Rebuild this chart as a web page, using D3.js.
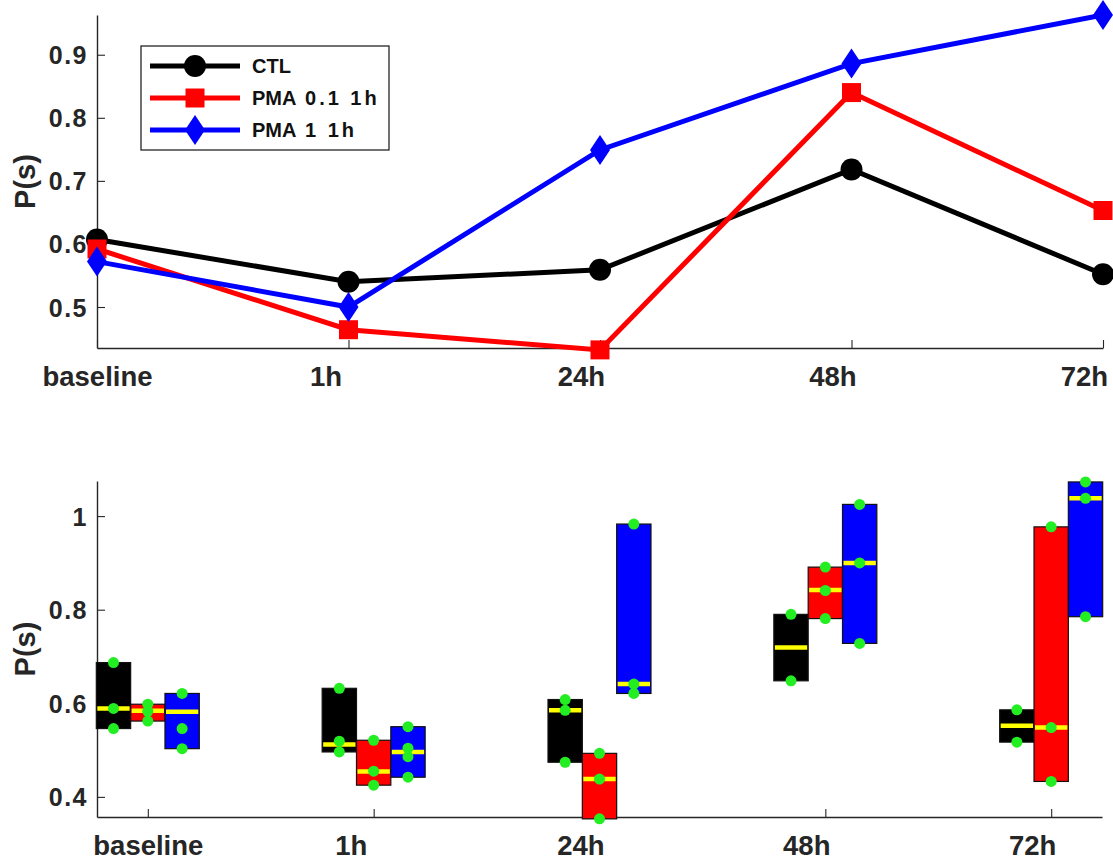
<!DOCTYPE html>
<html>
<head>
<meta charset="utf-8">
<script src="https://cdn.jsdelivr.net/npm/d3@7"></script>
<style>
  html, body { margin: 0; padding: 0; background: #fff; }
  svg { display: block; font-family: "Liberation Sans", Arial, Helvetica, sans-serif; font-weight: bold; }
  .pre { white-space: pre; }
</style>
</head>
<body>
<svg id="fig" width="1113" height="861"></svg>
<script>
// Time points and groups
const timepoints = ["baseline", "1h", "24h", "48h", "72h"];
const groups = ["CTL", "PMA 0.1 1h", "PMA 1 1h"];
const groupColors = ["#000000", "#ff0000", "#0000ff"];

// Mean P(s) per time point (upper panel)
const ctlMean   = [0.607, 0.540, 0.559, 0.718, 0.552];
const pma01Mean = [0.592, 0.464, 0.432, 0.840, 0.653];
const pma1Mean  = [0.572, 0.500, 0.749, 0.886, 0.963];

// Individual P(s) values per time point (lower panel)
const ctlPoints = [
  [0.687, 0.589, 0.546],
  [0.632, 0.519, 0.496],
  [0.608, 0.585, 0.474],
  [0.790, 0.648],
  [0.586, 0.517]
];
const pma01Points = [
  [0.598, 0.583, 0.562],
  [0.521, 0.455, 0.425],
  [0.493, 0.438, 0.353],
  [0.891, 0.841, 0.781],
  [0.977, 0.548, 0.433]
];
const pma1Points = [
  [0.621, 0.546, 0.503],
  [0.550, 0.504, 0.486, 0.442],
  [0.983, 0.641, 0.621],
  [1.025, 0.900, 0.728],
  [1.073, 1.038, 0.785]
];

// Medians per time point (lower panel)
const ctlMedian   = [0.589, 0.512, 0.585, 0.719, 0.552];
const pma01Median = [0.584, 0.454, 0.438, 0.842, 0.548];
const pma1Median  = [0.582, 0.496, 0.641, 0.900, 1.038];

// Tick values
const topYTicks = [0.5, 0.6, 0.7, 0.8, 0.9];
const botYTicks = [0.4, 0.6, 0.8, 1];

const means = [ctlMean, pma01Mean, pma1Mean];
const points = [ctlPoints, pma01Points, pma1Points];
const medians = [ctlMedian, pma01Median, pma1Median];

const svg = d3.select("#fig");
const axisColor = "#262626";
const xLabelSize = 27.5;

// Tick labels behave like a fixed-width character block: each label is
// centred as if padded with trailing blanks to the longest label's length.
const labelWidth = d3.max(timepoints, s => s.length);
function measure(str) {
  const t = svg.append("text").attr("class", "pre")
    .attr("font-size", xLabelSize).text(str);
  const w = t.node().getComputedTextLength();
  t.remove();
  return w;
}
const blankWidth = (measure("x" + " ".repeat(10) + "x") - measure("xx")) / 10;

function styleAxis(g) {
  g.select(".domain").attr("stroke", axisColor).attr("stroke-width", 1.4);
  g.selectAll(".tick line").attr("stroke", axisColor).attr("stroke-width", 1.1);
  g.selectAll(".tick text").attr("fill", "#262626").attr("font-weight", "bold");
}
function styleXLabels(g) {
  g.selectAll(".tick text")
    .attr("font-size", xLabelSize)
    .attr("dx", i => -(labelWidth - timepoints[i].length) * blankWidth / 2);
}
function styleYLabels(g) {
  g.selectAll(".tick text")
    .attr("font-size", 25)
    .attr("letter-spacing", 1.5)
    .attr("dy", "0.36em");
}

// ---------- Upper panel: means over time ----------
const xTop = d3.scaleLinear().domain([0, 4]).range([97, 1103]);
const yTop = d3.scaleLinear().domain([0.435, 0.963]).range([348, 15]);

const topPanel = svg.append("g");

topPanel.append("g")
  .attr("transform", `translate(0,${yTop.range()[0]})`)
  .call(d3.axisBottom(xTop).tickValues(d3.range(timepoints.length))
        .tickFormat(i => timepoints[i]).tickSizeInner(-8).tickSizeOuter(0).tickPadding(18))
  .call(styleAxis)
  .call(styleXLabels);

topPanel.append("g")
  .attr("transform", `translate(${xTop.range()[0]},0)`)
  .call(d3.axisLeft(yTop).tickValues(topYTicks).tickFormat(d3.format(".1f"))
        .tickSizeInner(-8).tickSizeOuter(0).tickPadding(9))
  .call(styleAxis)
  .call(styleYLabels);

topPanel.append("text")
  .attr("transform", `translate(35,${(yTop.range()[0] + yTop.range()[1]) / 2}) rotate(-90)`)
  .attr("text-anchor", "middle")
  .attr("font-size", 29)
  .attr("fill", "#262626")
  .text("P(s)");

const line = d3.line().x((d, i) => xTop(i)).y(d => yTop(d));

const symbolCircle = d3.symbol().type(d3.symbolCircle).size(Math.PI * 11 * 11);
const symbolSquare = d3.symbol().type(d3.symbolSquare).size(19 * 19);
function diamondPath(w, h) {
  return `M0,${-h / 2}L${w / 2},0L0,${h / 2}L${-w / 2},0Z`;
}
const markerPaths = [symbolCircle(), symbolSquare(), diamondPath(20, 30)];

means.forEach((series, gi) => {
  const sg = topPanel.append("g");
  sg.append("path")
    .datum(series)
    .attr("d", line)
    .attr("fill", "none")
    .attr("stroke", groupColors[gi])
    .attr("stroke-width", 5)
    .attr("stroke-linejoin", "miter");
  sg.selectAll("path.marker")
    .data(series)
    .join("path")
    .attr("class", "marker")
    .attr("transform", (d, i) => `translate(${xTop(i)},${yTop(d)})`)
    .attr("d", markerPaths[gi])
    .attr("fill", groupColors[gi]);
});

// Legend
const legend = topPanel.append("g").attr("transform", "translate(141,46)");
legend.append("rect")
  .attr("width", 248).attr("height", 104)
  .attr("fill", "#fff").attr("stroke", axisColor).attr("stroke-width", 1.3);
groups.forEach((name, gi) => {
  const row = legend.append("g").attr("transform", `translate(0,${20 + gi * 32})`);
  row.append("line")
    .attr("x1", 9).attr("x2", 99)
    .attr("stroke", groupColors[gi]).attr("stroke-width", 5);
  row.append("path")
    .attr("transform", "translate(54,0)")
    .attr("d", markerPaths[gi])
    .attr("fill", groupColors[gi]);
  const words = name.split(" ");
  const t = row.append("text")
    .attr("x", 111).attr("dy", "0.36em")
    .attr("font-size", 20)
    .attr("fill", "#111")
    .attr("class", "pre");
  t.append("tspan").text(words[0]);
  if (words.length > 1) {
    t.append("tspan")
      .attr("letter-spacing", 3)
      .text(" " + words.slice(1).join(" "));
  }
});

// ---------- Lower panel: range, median and individual values ----------
const xBot = d3.scaleLinear().domain([-0.225, 4.225]).range([97, 1102]);
const yBot = d3.scaleLinear().domain([0.357, 1.075]).range([817, 481]);
const boxW = 0.152;
const offsets = [-boxW, 0, boxW];

const botPanel = svg.append("g");

botPanel.append("g")
  .attr("transform", `translate(0,${yBot.range()[0]})`)
  .call(d3.axisBottom(xBot).tickValues(d3.range(timepoints.length))
        .tickFormat(i => timepoints[i]).tickSizeInner(-8).tickSizeOuter(0).tickPadding(18))
  .call(styleAxis)
  .call(styleXLabels);

botPanel.append("g")
  .attr("transform", `translate(${xBot.range()[0]},0)`)
  .call(d3.axisLeft(yBot).tickValues(botYTicks).tickFormat(d => d === 1 ? "1" : d3.format(".1f")(d))
        .tickSizeInner(-8).tickSizeOuter(0).tickPadding(9))
  .call(styleAxis)
  .call(styleYLabels);

botPanel.append("text")
  .attr("transform", `translate(35,${(yBot.range()[0] + yBot.range()[1]) / 2}) rotate(-90)`)
  .attr("text-anchor", "middle")
  .attr("font-size", 29)
  .attr("fill", "#262626")
  .text("P(s)");

const boxes = botPanel.append("g");
const medLines = botPanel.append("g");
const dots = botPanel.append("g");

points.forEach((series, gi) => {
  series.forEach((vals, ti) => {
    const [lo, hi] = d3.extent(vals);
    const x0 = xBot(ti + offsets[gi] - boxW / 2);
    const x1 = xBot(ti + offsets[gi] + boxW / 2);
    const xc = xBot(ti + offsets[gi]);
    boxes.append("rect")
      .attr("x", x0).attr("width", x1 - x0)
      .attr("y", yBot(hi)).attr("height", yBot(lo) - yBot(hi))
      .attr("fill", groupColors[gi])
      .attr("stroke", "#111").attr("stroke-width", 1.2);
    medLines.append("line")
      .attr("x1", x0 + 1).attr("x2", x1 - 1)
      .attr("y1", yBot(medians[gi][ti])).attr("y2", yBot(medians[gi][ti]))
      .attr("stroke", "#ffff00").attr("stroke-width", 4.5);
    dots.selectAll(null)
      .data(vals)
      .join("circle")
      .attr("cx", xc)
      .attr("cy", d => yBot(d))
      .attr("r", 5.5)
      .attr("fill", "#22ee22");
  });
});
</script>
</body>
</html>
